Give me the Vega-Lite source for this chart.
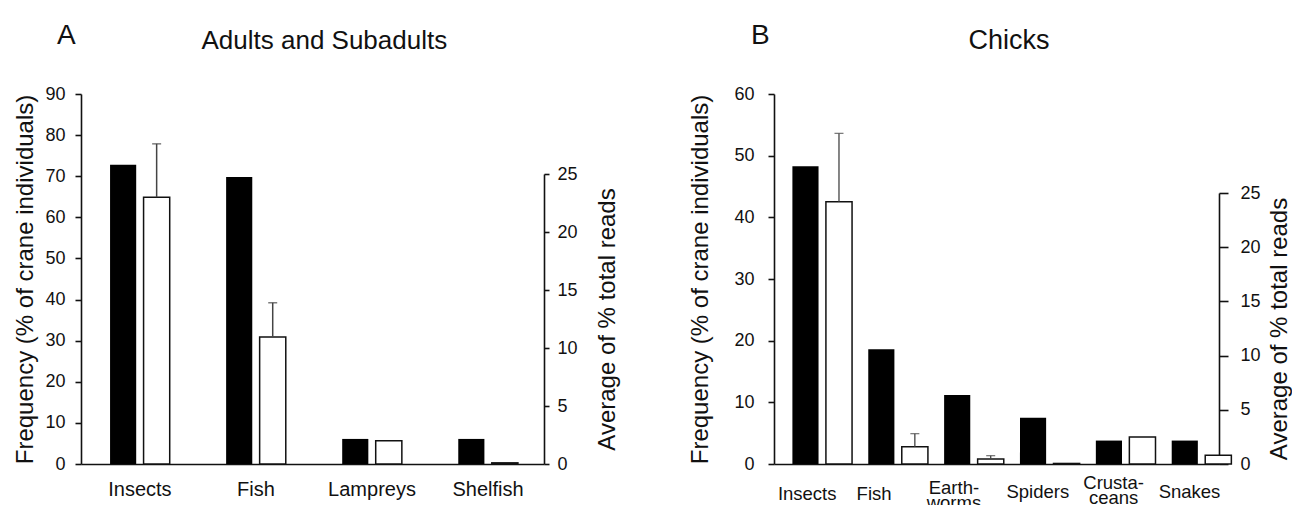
{
  "$schema": "https://vega.github.io/schema/vega-lite/v6.json",
  "padding": {"left": 13, "top": 22, "right": 0, "bottom": 0},
  "config": {
    "font": "Liberation Sans",
    "view": {"stroke": null},
    "concat": {"spacing": 68},
    "axis": {"grid": false, "domainColor": "#111", "tickColor": "#111", "labelColor": "#111", "titleColor": "#111", "domainWidth": 1.6, "tickWidth": 1.6, "titleFontWeight": "normal", "labelFont": "Liberation Sans", "titleFont": "Liberation Sans"},
    "title": {"font": "Liberation Sans", "subtitleFont": "Liberation Sans", "color": "#111", "subtitleColor": "#111", "fontWeight": "normal"}
  },
  "datasets": {
    "adults": [
      {"taxon": "Insects", "measure": "freq", "value": 72.8},
      {"taxon": "Insects", "measure": "reads", "value": 23.0, "upper": 27.6},
      {"taxon": "Fish", "measure": "freq", "value": 69.8},
      {"taxon": "Fish", "measure": "reads", "value": 10.95, "upper": 13.9},
      {"taxon": "Lampreys", "measure": "freq", "value": 6.1},
      {"taxon": "Lampreys", "measure": "reads", "value": 2.0},
      {"taxon": "Shelfish", "measure": "freq", "value": 6.1},
      {"taxon": "Shelfish", "measure": "reads", "value": 0.1}
    ],
    "chicks": [
      {"taxon": "Insects", "measure": "freq", "value": 48.3},
      {"taxon": "Insects", "measure": "reads", "value": 24.2, "upper": 30.5},
      {"taxon": "Fish", "measure": "freq", "value": 18.6},
      {"taxon": "Fish", "measure": "reads", "value": 1.6, "upper": 2.8},
      {"taxon": "Earthworms", "measure": "freq", "value": 11.2},
      {"taxon": "Earthworms", "measure": "reads", "value": 0.45, "upper": 0.77},
      {"taxon": "Spiders", "measure": "freq", "value": 7.5},
      {"taxon": "Spiders", "measure": "reads", "value": 0.05},
      {"taxon": "Crustaceans", "measure": "freq", "value": 3.8},
      {"taxon": "Crustaceans", "measure": "reads", "value": 2.5},
      {"taxon": "Snakes", "measure": "freq", "value": 3.8},
      {"taxon": "Snakes", "measure": "reads", "value": 0.8}
    ]
  },
  "hconcat": [
    {
      "width": 463,
      "height": 370,
      "title": {"text": "A", "subtitle": "\u200b\u00a0\u00a0\u00a0\u00a0\u00a0\u00a0\u00a0\u00a0\u00a0\u00a0\u00a0\u00a0\u00a0\u00a0\u00a0\u00a0\u00a0\u00a0\u00a0\u00a0Adults and Subadults", "anchor": "start", "frame": "group", "dx": -24, "fontSize": 28, "subtitleFontSize": 26, "subtitlePadding": -22, "offset": 31},
      "data": {"name": "adults"},
      "encoding": {
        "x": {"field": "taxon", "type": "nominal", "sort": ["Insects", "Fish", "Lampreys", "Shelfish"], "scale": {"paddingInner": 0.486, "paddingOuter": 0.2375, "align": 0.527}, "axis": {"title": null, "labelAngle": 0, "ticks": false, "tickSize": 0, "labelPadding": 15, "labelFontSize": 20}},
        "xOffset": {"field": "measure", "type": "nominal", "scale": {"domain": ["freq", "reads"], "paddingInner": 0.22, "paddingOuter": 0}}
      },
      "layer": [
        {
          "transform": [{"filter": "datum.measure == 'freq'"}],
          "mark": {"type": "bar", "color": "black"},
          "encoding": {"y": {"field": "value", "type": "quantitative", "scale": {"domain": [0, 90]}, "axis": {"title": "Frequency (% of crane individuals)", "values": [0, 10, 20, 30, 40, 50, 60, 70, 80, 90], "tickSize": 6, "labelPadding": 10, "labelFontSize": 18, "titleFontSize": 24, "titlePadding": 7}}}
        },
        {
          "transform": [{"filter": "datum.measure == 'reads'"}],
          "layer": [
            {
              "mark": {"type": "bar", "fill": "white", "stroke": "#111", "strokeWidth": 1.5},
              "encoding": {"y": {"field": "value", "type": "quantitative", "scale": {"domain": [0, 25], "range": [370, 80]}, "axis": {"orient": "right", "title": "Average of % total reads", "values": [0, 5, 10, 15, 20, 25], "tickSize": 5, "labelPadding": 8, "labelFontSize": 18, "titleFontSize": 24, "titleAngle": -90, "titleBaseline": "top", "titlePadding": 18}}}
            },
            {
              "transform": [{"filter": "isValid(datum.upper)"}],
              "mark": {"type": "rule", "color": "#444", "strokeWidth": 1.5},
              "encoding": {"y": {"field": "value", "type": "quantitative", "scale": {"domain": [0, 25], "range": [370, 80]}, "axis": {"orient": "right", "title": "Average of % total reads", "values": [0, 5, 10, 15, 20, 25], "tickSize": 5, "labelPadding": 8, "labelFontSize": 18, "titleFontSize": 24, "titleAngle": -90, "titleBaseline": "top", "titlePadding": 18}}, "y2": {"field": "upper"}}
            },
            {
              "transform": [{"filter": "isValid(datum.upper)"}],
              "mark": {"type": "tick", "color": "#444", "thickness": 1.5, "size": 9, "orient": "horizontal"},
              "encoding": {"y": {"field": "upper", "type": "quantitative", "scale": {"domain": [0, 25], "range": [370, 80]}, "axis": {"orient": "right", "title": "Average of % total reads", "values": [0, 5, 10, 15, 20, 25], "tickSize": 5, "labelPadding": 8, "labelFontSize": 18, "titleFontSize": 24, "titleAngle": -90, "titleBaseline": "top", "titlePadding": 18}}}
            }
          ]
        }
      ],
      "resolve": {"scale": {"y": "independent"}}
    },
    {
      "width": 445,
      "height": 370,
      "title": {"text": "B", "subtitle": "\u200b\u00a0\u00a0\u00a0\u00a0\u00a0\u00a0\u00a0\u00a0\u00a0\u00a0\u00a0\u00a0\u00a0\u00a0\u00a0\u00a0\u00a0\u00a0\u00a0\u00a0\u00a0\u00a0\u00a0\u00a0\u00a0\u00a0\u00a0\u00a0\u00a0Chicks", "anchor": "start", "frame": "group", "dx": -23, "fontSize": 28, "subtitleFontSize": 27, "subtitlePadding": -22, "offset": 31},
      "data": {"name": "chicks"},
      "encoding": {
        "x": {"field": "taxon", "type": "nominal", "sort": ["Insects", "Fish", "Earthworms", "Spiders", "Crustaceans", "Snakes"], "scale": {"paddingInner": 0.478, "paddingOuter": 0.172, "align": 0.705}, "axis": {"title": null, "labelAngle": 0, "ticks": false, "tickSize": 0, "labelBaseline": "top", "labelFontSize": 18.5, "labelLineHeight": 15,
          "labelPadding": {"condition": [{"test": "datum.value == 'Crustaceans'", "value": 9}, {"test": "datum.value == 'Earthworms'", "value": 14}, {"test": "datum.value == 'Insects' || datum.value == 'Fish'", "value": 20}], "value": 18},
          "labelOffset": {"condition": [{"test": "datum.value == 'Fish'", "value": -14}, {"test": "datum.value == 'Earthworms'", "value": -10}, {"test": "datum.value == 'Insects'", "value": -5}], "value": -2},
          "labelExpr": "datum.value == 'Earthworms' ? ['Earth-', 'worms'] : datum.value == 'Crustaceans' ? ['Crusta-', 'ceans'] : datum.value"}},
        "xOffset": {"field": "measure", "type": "nominal", "scale": {"domain": ["freq", "reads"], "paddingInner": 0.153, "paddingOuter": 0}}
      },
      "layer": [
        {
          "transform": [{"filter": "datum.measure == 'freq'"}],
          "mark": {"type": "bar", "color": "black"},
          "encoding": {"y": {"field": "value", "type": "quantitative", "scale": {"domain": [0, 60]}, "axis": {"title": "Frequency (% of crane individuals)", "values": [0, 10, 20, 30, 40, 50, 60], "tickSize": 6, "labelPadding": 14, "labelFontSize": 18, "titleFontSize": 24, "titlePadding": 21}}}
        },
        {
          "transform": [{"filter": "datum.measure == 'reads'"}],
          "layer": [
            {
              "mark": {"type": "bar", "fill": "white", "stroke": "#111", "strokeWidth": 1.5},
              "encoding": {"y": {"field": "value", "type": "quantitative", "scale": {"domain": [0, 25], "range": [370, 99]}, "axis": {"orient": "right", "title": "Average of % total reads", "values": [0, 5, 10, 15, 20, 25], "tickSize": 9, "labelPadding": 12, "labelFontSize": 18, "titleFontSize": 24, "titleAngle": -90, "titleBaseline": "top", "titlePadding": 7}}}
            },
            {
              "transform": [{"filter": "isValid(datum.upper)"}],
              "mark": {"type": "rule", "color": "#444", "strokeWidth": 1.3},
              "encoding": {"y": {"field": "value", "type": "quantitative", "scale": {"domain": [0, 25], "range": [370, 99]}, "axis": {"orient": "right", "title": "Average of % total reads", "values": [0, 5, 10, 15, 20, 25], "tickSize": 9, "labelPadding": 12, "labelFontSize": 18, "titleFontSize": 24, "titleAngle": -90, "titleBaseline": "top", "titlePadding": 7}}, "y2": {"field": "upper"}}
            },
            {
              "transform": [{"filter": "isValid(datum.upper)"}],
              "mark": {"type": "tick", "color": "#444", "thickness": 1.3, "size": 9, "orient": "horizontal"},
              "encoding": {"y": {"field": "upper", "type": "quantitative", "scale": {"domain": [0, 25], "range": [370, 99]}, "axis": {"orient": "right", "title": "Average of % total reads", "values": [0, 5, 10, 15, 20, 25], "tickSize": 9, "labelPadding": 12, "labelFontSize": 18, "titleFontSize": 24, "titleAngle": -90, "titleBaseline": "top", "titlePadding": 7}}}
            }
          ]
        }
      ],
      "resolve": {"scale": {"y": "independent"}}
    }
  ]
}
